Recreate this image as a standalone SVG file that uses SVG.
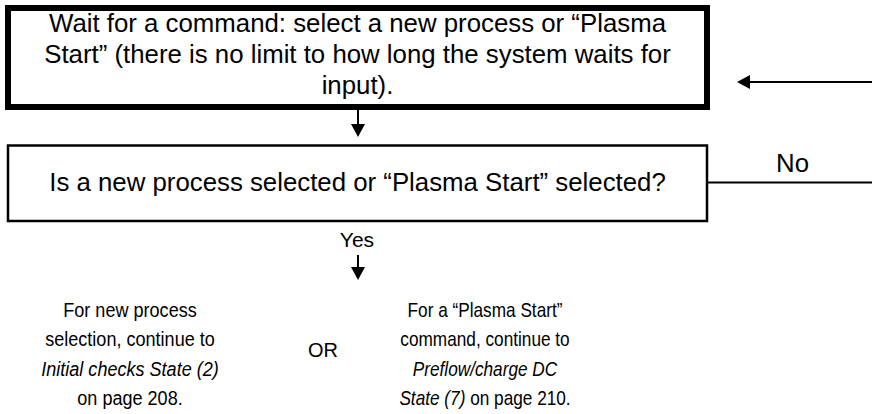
<svg xmlns="http://www.w3.org/2000/svg" width="872" height="414" viewBox="0 0 872 414">
  <style>
    .t { font-family: "Liberation Sans", Arial, sans-serif; fill: #000; }
    .big { font-size: 25.8px; }
    .small { font-size: 21px; }
    .it { font-style: italic; }
    .conn { stroke: #000; stroke-width: 2; fill: none; }
  </style>
  <defs>
    <marker id="ah" markerUnits="userSpaceOnUse" markerWidth="14" markerHeight="14" refX="0" refY="7" orient="auto" overflow="visible">
      <path d="M0,0 L13,7 L0,14 z" fill="#000"/>
    </marker>
  </defs>
  <rect width="872" height="414" fill="#fff"/>

  <g id="wait">
    <rect x="8" y="8" width="699" height="99" fill="#fff" stroke="#000" stroke-width="6"/>
    <text class="t big" text-anchor="middle" x="357.5" y="31.5">Wait for a command: select a new process or “Plasma</text>
    <text class="t big" text-anchor="middle" x="357.5" y="62.5">Start” (there is no limit to how long the system waits for</text>
    <text class="t big" text-anchor="middle" x="357.5" y="93.5">input).</text>
  </g>

  <g id="decision">
    <rect x="8" y="145.5" width="699" height="75.5" fill="#fff" stroke="#000" stroke-width="2.5"/>
    <text class="t big" text-anchor="middle" x="357.5" y="190.5">Is a new process selected or “Plasma Start” selected?</text>
  </g>

  <g id="newprocess" transform="translate(130,0) scale(0.86,1)">
    <text class="t small" text-anchor="middle" x="0" y="317">For new process</text>
    <text class="t small" text-anchor="middle" x="0" y="346.5">selection, continue to</text>
    <text class="t small it" text-anchor="middle" x="0" y="376">Initial checks State (2)</text>
    <text class="t small" text-anchor="middle" x="0" y="405.5">on page 208.</text>
  </g>

  <g id="or" transform="translate(323,0) scale(0.95,1)">
    <text class="t small" text-anchor="middle" x="0" y="357">OR</text>
  </g>

  <g id="plasmastart" transform="translate(485,0) scale(0.82,1)">
    <text class="t small" text-anchor="middle" x="0" y="317">For a “Plasma Start”</text>
    <text class="t small" text-anchor="middle" x="0" y="346.5">command, continue to</text>
    <text class="t small it" text-anchor="middle" x="0" y="376">Preflow/charge DC</text>
    <text class="t small" text-anchor="middle" x="0" y="405.5"><tspan class="it">State (7)</tspan> on page 210.</text>
  </g>

  <g id="connectors">
    <path class="conn" d="M358,110 V124" marker-end="url(#ah)"/>
    <path class="conn" d="M358,255 V267" marker-end="url(#ah)"/>
    <path class="conn" d="M707,182.5 H872"/>
    <path class="conn" d="M872,82 H750" marker-end="url(#ah)"/>
    <text class="t big" text-anchor="middle" x="792.5" y="171.5">No</text>
    <text class="t small" text-anchor="middle" x="357" y="246.5">Yes</text>
  </g>
</svg>
